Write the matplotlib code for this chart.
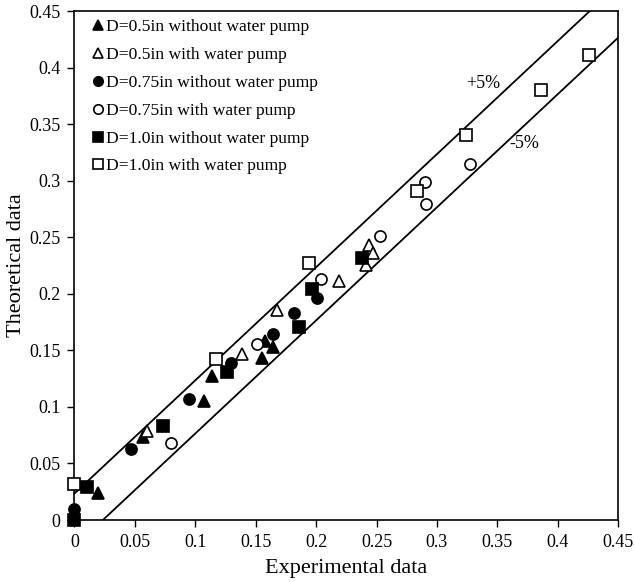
import matplotlib
matplotlib.use("Agg")
import matplotlib.pyplot as plt
from matplotlib.ticker import FuncFormatter

plt.rcParams["font.family"] = ["Liberation Serif", "DejaVu Serif"]

# D=0.5in
x_05_wo = [0.0195, 0.057, 0.107, 0.114, 0.1555, 0.158, 0.164]
y_05_wo = [0.024, 0.073, 0.105, 0.127, 0.143, 0.158, 0.153]
x_05_w = [0.060, 0.139, 0.168, 0.219, 0.241, 0.244, 0.247]
y_05_w = [0.079, 0.147, 0.186, 0.211, 0.2255, 0.243, 0.236]
# D=0.75in
x_075_wo = [0.0, 0.0465, 0.0946, 0.1296, 0.1646, 0.1817, 0.2005]
y_075_wo = [0.0095, 0.063, 0.1067, 0.1391, 0.1642, 0.1827, 0.1966]
x_075_w = [0.0799, 0.1508, 0.2038, 0.2532, 0.2902, 0.291, 0.3275]
y_075_w = [0.0678, 0.1553, 0.2128, 0.2514, 0.2991, 0.2797, 0.3148]
# D=1.0in
x_10_wo = [0.0, 0.0106, 0.073, 0.126, 0.1861, 0.1966, 0.2378]
y_10_wo = [0.0, 0.0289, 0.0831, 0.1311, 0.1709, 0.204, 0.2314]
x_10_w = [0.0, 0.1172, 0.1939, 0.2833, 0.3241, 0.3862, 0.4262]
y_10_w = [0.0318, 0.1424, 0.227, 0.2912, 0.3404, 0.3802, 0.4111]

band = 0.0235  # +/-5% offset lines
line_x = [0.0, 0.5]

series = [
    (x_05_wo, y_05_wo, "^", "black", "D=0.5in without water pump"),
    (x_05_w, y_05_w, "^", "white", "D=0.5in with water pump"),
    (x_075_wo, y_075_wo, "o", "black", "D=0.75in without water pump"),
    (x_075_w, y_075_w, "o", "white", "D=0.75in with water pump"),
    (x_10_wo, y_10_wo, "s", "black", "D=1.0in without water pump"),
    (x_10_w, y_10_w, "s", "white", "D=1.0in with water pump"),
]

fig = plt.figure(figsize=(6.34, 5.82), dpi=100)
ax = fig.add_axes([0.1175, 0.1065, 0.8575, 0.8745])

ax.plot(line_x, [v + band for v in line_x], color="black", lw=1.3, zorder=1)
ax.plot(line_x, [v - band for v in line_x], color="black", lw=1.3, zorder=1)

for xs, ys, m, fc, lab in series:
    ax.plot(xs, ys, linestyle="none", marker=m, markersize=8, markerfacecolor=fc,
            markeredgecolor="black", markeredgewidth=1.2, label=lab, zorder=3, clip_on=False)

ax.text(0.338, 0.386, "+5%", fontsize=13, ha="center", va="center")
ax.text(0.372, 0.333, "-5%", fontsize=13, ha="center", va="center")

ax.set_xlim(0, 0.45)
ax.set_ylim(0, 0.45)
ticks = [i * 0.05 for i in range(10)]
ax.set_xticks(ticks)
ax.set_yticks(ticks)
fmt = FuncFormatter(lambda v, p: "%g" % round(v, 2))
ax.xaxis.set_major_formatter(fmt)
ax.yaxis.set_major_formatter(fmt)
ax.tick_params(direction="out", length=5, width=1, labelsize=13, pad=5)
for s in ax.spines.values():
    s.set_linewidth(1.2)

ax.set_xlabel("Experimental data", fontsize=16, labelpad=6)
ax.set_ylabel("Theoretical data", fontsize=16, labelpad=2)

ax.legend(loc="upper left", frameon=False, fontsize=12.6, markerscale=0.85,
          handlelength=0.6, handletextpad=0.2, labelspacing=0.66,
          borderaxespad=0.0, borderpad=0.0, bbox_to_anchor=(0.033, 0.984))

fig.savefig("out.png", dpi=100)
